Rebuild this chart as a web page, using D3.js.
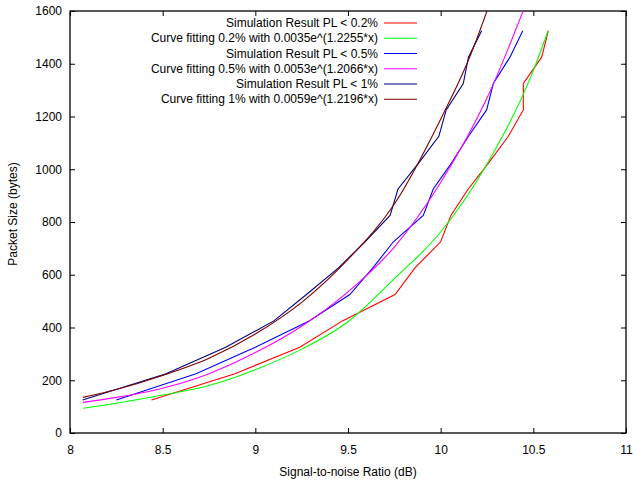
<!DOCTYPE html>
<html>
<head>
<meta charset="utf-8">
<script src="https://cdn.jsdelivr.net/npm/d3@7"></script>
<style>
  html, body { margin: 0; padding: 0; background: #fff; }
  svg { display: block; font-family: "Liberation Sans", Arial, sans-serif; }
</style>
</head>
<body>
<svg id="chart" width="633" height="482"></svg>
<script>
// ---- data ----
const xTicks = [8, 8.5, 9, 9.5, 10, 10.5, 11];
const yTicks = [0, 200, 400, 600, 800, 1000, 1200, 1400, 1600];

// simulation packet sizes (bytes)
const packetSizes = [125, 225, 325, 425, 525, 625, 725, 825, 925, 1025, 1125, 1225, 1325, 1425, 1525];
// SNR (dB) for each packet size, per packet-loss limit
const snrPL02 = [8.44, 8.89, 9.24, 9.47, 9.754, 9.86, 10.0, 10.055, 10.149, 10.26, 10.365, 10.446, 10.446, 10.545, 10.581];
const snrPL05 = [8.25, 8.68, 9.0, 9.29, 9.51, 9.633, 9.745, 9.906, 9.96, 10.06, 10.15, 10.248, 10.284, 10.374, 10.443];
const snrPL1  = [8.068, 8.518, 8.84, 9.1, 9.276, 9.447, 9.592, 9.727, 9.77, 9.883, 9.99, 10.03, 10.122, 10.15, 10.221];

// fitted curves
const fitSnr02  = [8.07, 8.25, 8.5, 8.75, 9.0, 9.25, 9.5, 9.75, 10.0, 10.25, 10.5, 10.58];
const fitSize02 = [94, 113, 144, 180, 240, 318, 422, 585, 762, 1020, 1374, 1525];
const fitSnr05  = [8.07, 8.25, 8.5, 8.75, 9.0, 9.25, 9.5, 9.75, 10.0, 10.25, 10.5];
const fitSize05 = [116, 135, 170, 225, 305, 405, 535, 705, 950, 1270, 1700];
const fitSnr1   = [8.07, 8.25, 8.5, 8.75, 9.0, 9.25, 9.5, 9.75, 10.0, 10.15, 10.25, 10.3];
const fitSize1  = [135, 165, 218, 283, 375, 495, 658, 868, 1190, 1414, 1600, 1700];

const seriesNames = [
  "Simulation Result PL < 0.2%",
  "Curve fitting 0.2% with 0.0035e^(1.2255*x)",
  "Simulation Result PL < 0.5%",
  "Curve fitting 0.5% with 0.0053e^(1.2066*x)",
  "Simulation Result PL < 1%",
  "Curve fitting 1% with 0.0059e^(1.2196*x)"
];
const seriesColors = ["#ff0000", "#00ff00", "#0000ff", "#ff00ff", "#000080", "#800000"];

const xLabel = "Signal-to-noise Ratio (dB)";
const yLabel = "Packet Size (bytes)";

(function draw() {
  const pL = 70, pR = 626, pT = 11, pB = 433;
  const svg = d3.select("#chart");
  const x = d3.scaleLinear().domain([8, 11]).range([pL, pR]);
  const y = d3.scaleLinear().domain([0, 1600]).range([pB, pT]);

  const zip = (xs, ys) => xs.map((v, i) => [v, ys[i]]);
  const series = [
    { pts: zip(snrPL02, packetSizes), fit: false },
    { pts: zip(fitSnr02, fitSize02), fit: true },
    { pts: zip(snrPL05, packetSizes), fit: false },
    { pts: zip(fitSnr05, fitSize05), fit: true },
    { pts: zip(snrPL1, packetSizes), fit: false },
    { pts: zip(fitSnr1, fitSize1), fit: true }
  ];

  svg.append("defs").append("clipPath").attr("id", "plotclip")
    .append("rect").attr("x", pL).attr("y", pT)
    .attr("width", pR - pL).attr("height", pB - pT);

  const tickLen = 5;
  const plain = d => String(d);
  const gx = svg.append("g").attr("transform", `translate(0,${pB})`)
    .call(d3.axisBottom(x).tickValues(xTicks).tickSizeInner(-tickLen).tickSizeOuter(0).tickPadding(12)
      .tickFormat(plain));
  const gxt = svg.append("g").attr("transform", `translate(0,${pT})`)
    .call(d3.axisTop(x).tickValues(xTicks).tickSizeInner(-tickLen).tickSizeOuter(0).tickFormat(""));
  const gy = svg.append("g").attr("transform", `translate(${pL},0)`)
    .call(d3.axisLeft(y).tickValues(yTicks).tickSizeInner(-tickLen).tickSizeOuter(0).tickPadding(8)
      .tickFormat(plain));
  const gyr = svg.append("g").attr("transform", `translate(${pR},0)`)
    .call(d3.axisRight(y).tickValues(yTicks).tickSizeInner(-tickLen).tickSizeOuter(0).tickFormat(""));

  [gx, gxt, gy, gyr].forEach(g => {
    g.select(".domain").remove();
    g.selectAll(".tick line").attr("stroke", "#000").attr("stroke-width", 1);
    g.selectAll(".tick text").attr("fill", "#000").style("font-size", "12px")
      .style("font-family", '"Liberation Sans", Arial, sans-serif');
  });

  svg.append("rect").attr("x", pL).attr("y", pT)
    .attr("width", pR - pL).attr("height", pB - pT)
    .attr("fill", "none").attr("stroke", "#000").attr("stroke-width", 1.3);

  const lineLin = d3.line().x(d => x(d[0])).y(d => y(d[1]));
  const lineFit = d3.line().x(d => x(d[0])).y(d => y(d[1])).curve(d3.curveMonotoneX);
  const plot = svg.append("g").attr("clip-path", "url(#plotclip)");
  series.forEach((s, i) => {
    plot.append("path")
      .attr("d", (s.fit ? lineFit : lineLin)(s.pts))
      .attr("fill", "none")
      .attr("stroke", seriesColors[i])
      .attr("stroke-width", 1.1);
  });

  const leg = svg.append("g");
  seriesNames.forEach((name, i) => {
    const yy = 23 + i * 15.25;
    leg.append("text").attr("x", 378).attr("y", yy).attr("dy", "0.35em")
      .attr("text-anchor", "end").style("font-size", "12px").attr("fill", "#000").text(name);
    leg.append("line").attr("x1", 384).attr("x2", 417).attr("y1", yy).attr("y2", yy)
      .attr("stroke", seriesColors[i]).attr("stroke-width", 1.1);
  });

  svg.append("text").attr("x", (pL + pR) / 2).attr("y", 472).attr("dy", "0.35em")
    .attr("text-anchor", "middle").style("font-size", "12px").attr("fill", "#000").text(xLabel);
  svg.append("text").attr("transform", `translate(13,214) rotate(-90)`).attr("dy", "0.35em")
    .attr("text-anchor", "middle").style("font-size", "12px").attr("fill", "#000").text(yLabel);
})();
</script>
</body>
</html>
